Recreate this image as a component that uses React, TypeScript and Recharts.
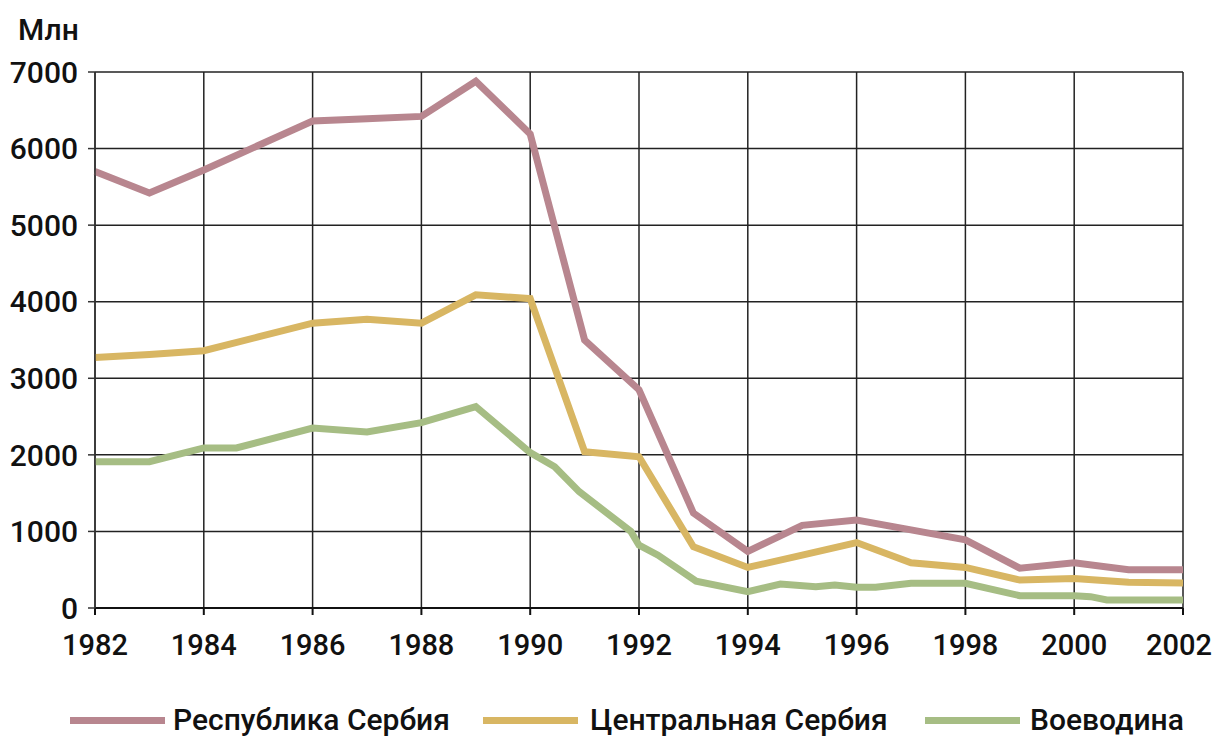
import { LineChart, Line, XAxis, YAxis, CartesianGrid } from "recharts";

const yearTicks = [1982, 1984, 1986, 1988, 1990, 1992, 1994, 1996, 1998, 2000, 2002];
const valueTicks = [0, 1000, 2000, 3000, 4000, 5000, 6000, 7000];

const serbiaYears = [1982, 1983, 1984, 1985, 1986, 1987, 1988, 1989, 1990, 1991, 1992, 1993, 1994, 1995, 1996, 1997, 1998, 1999, 2000, 2001, 2002];
const serbiaValues = [5700, 5420, 5720, 6040, 6360, 6390, 6420, 6880, 6190, 3500, 2850, 1240, 740, 1080, 1150, 1020, 890, 520, 590, 500, 500];

const centralYears = [1982, 1983, 1984, 1985, 1986, 1987, 1988, 1989, 1990, 1991, 1992, 1993, 1994, 1995, 1996, 1997, 1998, 1999, 2000, 2001, 2002];
const centralValues = [3270, 3310, 3360, 3540, 3720, 3770, 3720, 4090, 4040, 2040, 1975, 800, 530, 690, 855, 590, 530, 365, 385, 335, 325];

const voevodinaYears = [1982, 1983, 1984, 1984.6, 1986, 1987, 1988, 1989, 1990, 1990.45, 1990.9, 1991.85, 1992, 1992.35, 1993.05, 1994, 1994.6, 1995.25, 1995.6, 1996, 1996.35, 1997, 1998, 1999, 2000, 2000.3, 2000.6, 2002];
const voevodinaValues = [1910, 1910, 2090, 2090, 2350, 2300, 2420, 2630, 2030, 1845, 1520, 1000, 820, 690, 350, 213, 313, 278, 300, 270, 270, 322, 322, 161, 161, 148, 104, 104];

const seriesNames = ["Республика Сербия", "Центральная Сербия", "Воеводина"];
const seriesColors = ["#b8868f", "#d8b663", "#a6bd84"];

const toRows = (years: number[], values: number[]) => years.map((year, i) => ({ year, v: values[i] }));

const series = [
  toRows(serbiaYears, serbiaValues),
  toRows(centralYears, centralValues),
  toRows(voevodinaYears, voevodinaValues),
];

const FONT = "Roboto, 'DejaVu Sans', sans-serif";
const tickStyle = { fill: "#111", fontSize: 30, fontWeight: 500, fontFamily: FONT };

// last year label would run off the right edge, so nudge it left a bit
function YearTick(props: any) {
  const { x, y, payload } = props;
  const last = payload.value === yearTicks[yearTicks.length - 1];
  return (
    <text x={x + (last ? -4 : 0)} y={y} dy="0.71em" textAnchor="middle" {...tickStyle} fontSize={29}>
      {payload.value}
    </text>
  );
}

export default function App() {
  return (
    <div style={{ position: "absolute", left: 0, top: 0, width: 1213, height: 737, background: "#fff", fontFamily: FONT }}>
      <div style={{ position: "absolute", left: 18, top: 12, fontSize: 30, fontWeight: 500, color: "#111", lineHeight: "36px" }}>
        Млн
      </div>
      <LineChart width={1213} height={737} margin={{ top: 72, right: 30, left: 0, bottom: 79 }}>
        <CartesianGrid stroke="#222" strokeWidth={1.5} />
        <XAxis
          dataKey="year"
          type="number"
          domain={[1982, 2002]}
          ticks={yearTicks}
          allowDuplicatedCategory={false}
          height={50}
          tick={<YearTick />}
          tickSize={7}
          tickMargin={19}
          stroke="#111"
          strokeWidth={2}
          interval={0}
        />
        <YAxis
          type="number"
          domain={[0, 7000]}
          ticks={valueTicks}
          width={95}
          tick={tickStyle}
          tickSize={7}
          tickMargin={10}
          stroke="#333"
          strokeWidth={1.5}
          interval={0}
        />
        {series.map((rows, i) => (
          <Line
            key={seriesNames[i]}
            data={rows}
            dataKey="v"
            name={seriesNames[i]}
            type="linear"
            stroke={seriesColors[i]}
            strokeWidth={7}
            dot={false}
            activeDot={false}
            isAnimationActive={false}
          />
        ))}
      </LineChart>
      <div style={{ position: "absolute", left: 0, top: 702, width: 1213, height: 36 }}>
        {[
          { x: 70, tx: 173 },
          { x: 483, tx: 590 },
          { x: 925, tx: 1030 },
        ].map((p, i) => (
          <div key={seriesNames[i]}>
            <div style={{ position: "absolute", left: p.x, top: 15, width: 95, height: 7, background: seriesColors[i] }} />
            <div style={{ position: "absolute", left: p.tx, top: 0, fontSize: 30, fontWeight: 500, color: "#111", lineHeight: "36px", whiteSpace: "nowrap" }}>
              {seriesNames[i]}
            </div>
          </div>
        ))}
      </div>
    </div>
  );
}
